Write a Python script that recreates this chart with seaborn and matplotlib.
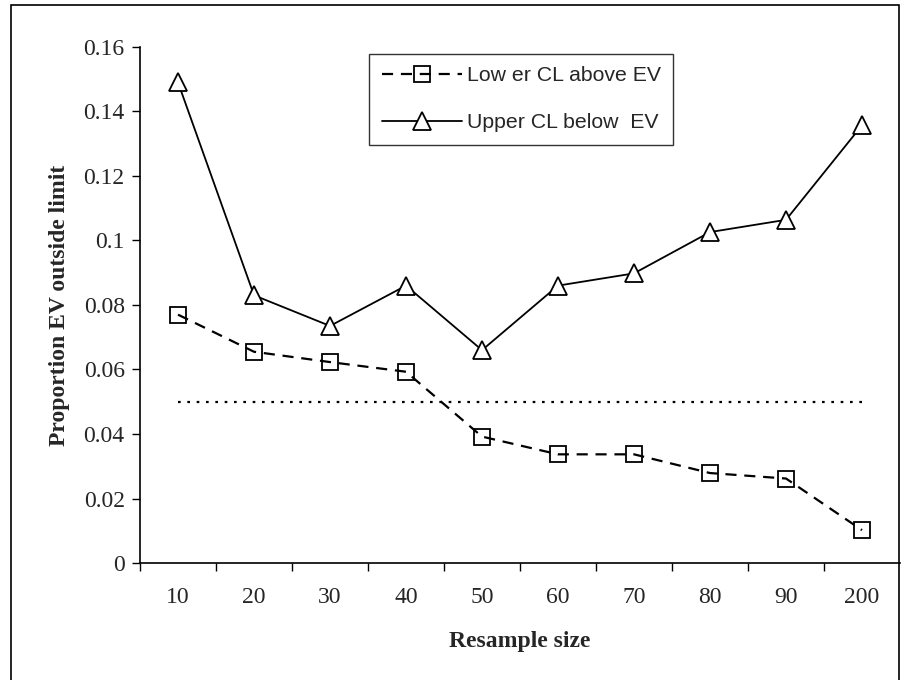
import matplotlib
matplotlib.use('Agg')
import matplotlib.pyplot as plt
import matplotlib.patches as mpatches
import seaborn as sns
import numpy as np
import pandas as pd

# resample sizes (categorical axis)
sizes = ['10', '20', '30', '40', '50', '60', '70', '80', '90', '200']
lower_cl_above = [0.077, 0.0655, 0.0623, 0.0593, 0.0392, 0.0337, 0.0337, 0.0279, 0.0262, 0.0102]
upper_cl_below = [0.149, 0.083, 0.0735, 0.086, 0.066, 0.086, 0.0898, 0.1026, 0.1064, 0.1357]
nominal = [0.05] * len(sizes)

df = pd.DataFrame({'pos': np.arange(len(sizes)), 'size': sizes,
                   'lower': lower_cl_above, 'upper': upper_cl_below, 'nominal': nominal})

sns.set_style('white')
plt.rcParams['font.family'] = ['Liberation Serif', 'DejaVu Serif']

fig = plt.figure(figsize=(9.01, 6.8), dpi=100)
ax = fig.add_axes([0.1554, 0.172, 0.8435, 0.759])

sns.lineplot(data=df, x='pos', y='lower', ax=ax, color='black', lw=1.6,
             linestyle=(0, (5, 3.5)), marker='s', markersize=11,
             markerfacecolor='none', markeredgecolor='black', markeredgewidth=1.3,
             label='Low er CL above EV')
sns.lineplot(data=df, x='pos', y='upper', ax=ax, color='black', lw=1.3,
             marker='^', markersize=13,
             markerfacecolor='white', markeredgecolor='black', markeredgewidth=1.3,
             label='Upper CL below  EV')
sns.lineplot(data=df, x='pos', y='nominal', ax=ax, color='black', lw=1.6,
             linestyle=(0, (1.2, 3)), legend=False)

ax.set_xlim(-0.5, len(sizes) - 0.5)
ax.set_ylim(0, 0.16)
ax.set_yticks(np.arange(0, 0.161, 0.02))
ax.set_yticklabels(['0', '0.02', '0.04', '0.06', '0.08', '0.1', '0.12', '0.14', '0.16'])

# category boundaries get the tick marks, centres get the labels
ax.set_xticks(np.arange(-0.5, len(sizes) - 0.6, 1.0))
ax.set_xticklabels([])
ax.set_xticks(np.arange(len(sizes)), minor=True)
ax.set_xticklabels(sizes, minor=True)
ax.tick_params(axis='x', which='major', direction='out', length=6, width=1, color='black', bottom=True)
ax.tick_params(axis='x', which='minor', length=0, pad=17, labelsize=17)
ax.tick_params(axis='y', direction='out', length=6, width=1, color='black', left=True, labelsize=17, pad=5)

for side in ['top', 'right']:
    ax.spines[side].set_visible(False)
for side in ['left', 'bottom']:
    ax.spines[side].set_color('black')
    ax.spines[side].set_linewidth(1.2)

ax.set_xlabel('Resample size', fontsize=17, fontweight='bold', labelpad=17)
ax.set_ylabel('Proportion EV outside limit', fontsize=17, fontweight='bold', labelpad=10)

leg = ax.legend(loc='upper left', bbox_to_anchor=(0.301, 0.987), frameon=True, fancybox=False,
                edgecolor='black', handlelength=3.8, handletextpad=0.2, labelspacing=1.3,
                borderpad=0.6, borderaxespad=0, prop={'family': 'Liberation Sans', 'size': 15.3})
leg.get_frame().set_linewidth(1.0)

# outer frame around the whole chart
fig.patches.append(mpatches.Rectangle((0.012, -0.01), 0.986, 1.003, transform=fig.transFigure,
                                      fill=False, edgecolor='black', lw=1.2))

fig.savefig('out.png', dpi=100)
